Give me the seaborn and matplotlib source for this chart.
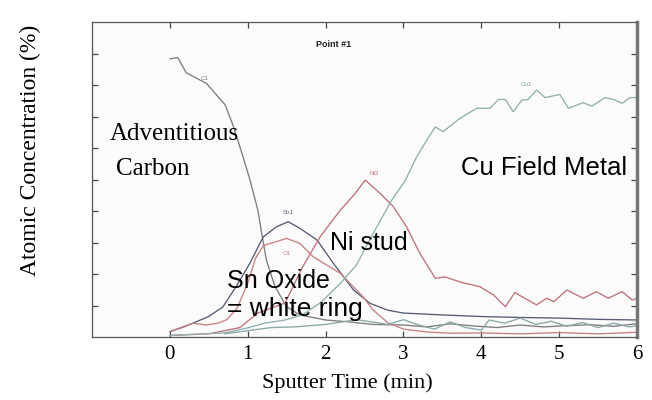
import matplotlib
matplotlib.use("Agg")
import matplotlib.pyplot as plt
import numpy as np
import pandas as pd
import seaborn as sns

# ---------------- data ----------------
c1_time = [0, 0.1, 0.21, 0.47, 0.71, 0.81, 0.94, 1.03, 1.13, 1.18, 1.24, 1.35, 1.5,
           1.67, 2.0, 2.3, 2.6, 3.0, 3.3, 3.6, 3.9, 4.2, 4.5, 4.8, 5.1, 5.4, 5.7, 6.0]
c1_conc = [88.3, 88.7, 83.9, 80.5, 73.7, 67.3, 57.2, 49.8, 40.3, 32.9, 24.4, 16.0, 9.6,
           7.0, 5.4, 4.8, 4.0, 3.8, 3.2, 4.2, 3.5, 3.0, 3.8, 3.2, 3.6, 3.9, 3.4, 4.2]

sn1_time = [0, 0.19, 0.49, 0.68, 0.85, 1.03, 1.2, 1.37, 1.52, 1.67, 1.89, 2.1, 2.36,
            2.57, 2.8, 3.0, 3.5, 4.0, 4.5, 5.0, 5.5, 6.0]
sn1_conc = [1.7, 3.3, 6.4, 9.5, 16.0, 23.5, 31.8, 35.0, 36.6, 34.5, 30.8, 23.4, 14.9,
            10.7, 8.5, 7.6, 7.0, 6.5, 6.2, 6.0, 5.6, 5.4]

o1_time = [0, 0.13, 0.3, 0.47, 0.62, 0.73, 0.86, 1.0, 1.1, 1.2, 1.5, 1.67, 1.84, 2.19,
           2.48, 2.61, 2.8, 3.0, 3.3, 3.6, 4.0, 4.5, 5.0, 5.5, 6.0]
o1_conc = [1.7, 2.9, 4.4, 3.8, 4.4, 5.5, 9.0, 17.0, 25.0, 29.0, 31.3, 29.7, 25.5, 20.2,
           12.8, 8.6, 4.5, 2.5, 1.6, 1.2, 1.3, 1.0, 1.4, 1.0, 1.5]

ni3_time = [0, 0.5, 0.9, 1.13, 1.48, 1.7, 1.93, 2.19, 2.36, 2.51, 2.7, 2.87, 3.04, 3.21,
            3.41, 3.53, 3.75, 3.98, 4.16, 4.31, 4.43, 4.71, 4.84, 4.93, 5.1, 5.31, 5.48,
            5.63, 5.81, 5.94, 6.0]
ni3_conc = [0.5, 1.0, 3.0, 7.6, 10.8, 22.0, 31.8, 40.3, 45.0, 49.8, 45.6, 41.4, 35.0, 26.6,
            18.6, 19.1, 17.3, 16.0, 13.3, 9.6, 14.1, 10.2, 12.3, 11.2, 14.9, 12.3, 14.4,
            12.3, 14.4, 11.7, 12.3]

cu1_time = [0, 0.7, 1.0, 1.22, 1.48, 1.7, 1.93, 2.19, 2.4, 2.57, 2.85, 3.02, 3.17, 3.3,
            3.41, 3.51, 3.73, 3.94, 4.11, 4.22, 4.31, 4.41, 4.52, 4.6, 4.71, 4.82, 5.01,
            5.12, 5.31, 5.42, 5.59, 5.7, 5.81, 5.91, 6.0]
cu1_conc = [0.5, 1.3, 2.9, 4.4, 5.4, 7.0, 10.8, 17.0, 23.0, 31.0, 43.5, 49.5, 57.2, 62.5,
            66.7, 65.2, 69.5, 72.6, 72.6, 75.4, 75.4, 71.5, 75.2, 75.4, 78.4, 76.0, 77.0,
            72.6, 74.4, 73.3, 76.0, 75.4, 74.2, 76.0, 76.0]

x1_time = [0.7, 1.0, 1.3, 1.6, 2.0, 2.4, 2.8, 3.0, 3.2, 3.4, 3.6, 3.8, 4.0, 4.1, 4.3,
           4.5, 4.7, 4.9, 5.1, 5.3, 5.5, 5.7, 5.9, 6.0]
x1_conc = [1.0, 2.0, 3.0, 3.2, 4.0, 5.5, 4.0, 5.5, 3.8, 2.5, 4.8, 3.0, 2.2, 5.4, 4.4,
           6.0, 4.0, 5.0, 3.4, 4.6, 3.0, 4.4, 3.2, 3.6]

x_ticks = [0, 1, 2, 3, 4, 5, 6]
y_ticks = [10, 20, 30, 40, 50, 60, 70, 80, 90]

series = [("C1", c1_time, c1_conc), ("Sn1", sn1_time, sn1_conc), ("O1", o1_time, o1_conc),
          ("Ni3", ni3_time, ni3_conc), ("Cu1", cu1_time, cu1_conc), ("X1", x1_time, x1_conc)]
palette = {"C1": "#7c7c7c", "Sn1": "#545c74", "O1": "#c98080", "Ni3": "#c27078",
           "Cu1": "#8fb0ae", "X1": "#86a8a8"}

df = pd.concat([pd.DataFrame({"time": t, "conc": v, "element": n}) for n, t, v in series],
               ignore_index=True)

# ---------------- figure ----------------
sns.set_style("ticks")
plt.rcParams['font.family'] = ['Liberation Serif', 'DejaVu Serif']
plt.rcParams['text.color'] = 'black'
plt.rcParams['xtick.color'] = 'black'
plt.rcParams['ytick.color'] = 'black'

fig = plt.figure(figsize=(6.52, 4.0), dpi=100)
W, H = 652, 400
ax = fig.add_axes([92 / W, 1 - 337 / H, (637 - 92) / W, (337 - 22) / H])
ax.set_facecolor("#fbfbfb")

sns.lineplot(data=df, x="time", y="conc", hue="element", palette=palette,
             estimator=None, sort=False, legend=False, linewidth=0.95, ax=ax)

ax.set_xlim(-1, 6)
ax.set_ylim(0, 100)
ax.set_xticks(x_ticks)
ax.set_xticklabels([str(v) for v in x_ticks], fontsize=15, color="black")
ax.set_yticks(y_ticks)
ax.set_yticklabels([])
ax.tick_params(direction="in", top=True, right=True, length=4, width=0.9,
               color="#444444", pad=6)
ax.set_xlabel("")
ax.set_ylabel("")
for s in ax.spines.values():
    s.set_color("#555555")
    s.set_linewidth(0.9)
ax.spines["right"].set_linewidth(2.5)
ax.spines["right"].set_color("#777777")

fig.text(347 / W, 1 - 383 / H, "Sputter Time (min)", ha="center", va="center",
         fontsize=16, color="black")
fig.text(30 / W, 1 - 150 / H, "Atomic Concentration (%)", ha="center", va="center",
         rotation=90, fontsize=17, color="black")

# annotations
sans = ["Liberation Sans", "DejaVu Sans"]
ax.text(2.1, 93, "Point #1", fontsize=6.5, fontweight="bold", family=sans, ha="center",
        va="center", color="#222222")
ax.text(-0.77, 62.5, "Adventitious", fontsize=18, ha="left", va="baseline", color="black")
ax.text(-0.69, 51.5, "Carbon", fontsize=18, ha="left", va="baseline", color="black")
ax.text(3.74, 51.5, "Cu Field Metal", fontsize=18.5, family=sans, ha="left",
        va="baseline", color="black")
ax.text(2.06, 27.6, "Ni stud", fontsize=18, family=sans, ha="left", va="baseline",
        color="black")
ax.text(0.73, 15.5, "Sn Oxide", fontsize=18, family=sans, ha="left", va="baseline",
        color="black")
ax.text(0.73, 6.8, "= white ring", fontsize=19, family=sans, ha="left", va="baseline",
        color="black")

small = dict(fontsize=4.5, family=sans, ha="center", va="center")
ax.text(0.45, 82, "C1", color="#777777", **small)
ax.text(1.52, 39.5, "Sn1", color="#545c74", **small)
ax.text(1.5, 26.5, "O1", color="#c98080", **small)
ax.text(2.62, 52, "Ni3", color="#c27078", **small)
ax.text(4.58, 80, "Cu1", color="#7f9f9d", **small)

fig.savefig("out.png", dpi=100)
